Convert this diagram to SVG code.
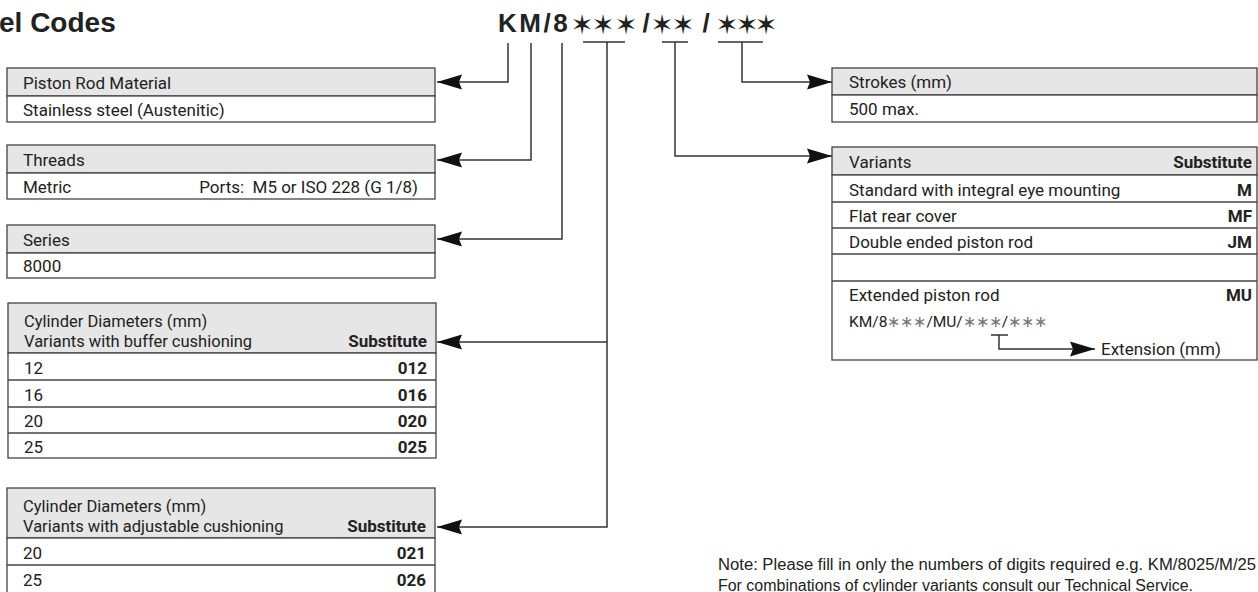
<svg xmlns="http://www.w3.org/2000/svg" width="1258" height="592" viewBox="0 0 1258 592">
<style>
.hdr{fill:#e6e6e6;stroke:#444;stroke-width:1.3}
.body{fill:#fff;stroke:#444;stroke-width:1.3}
.sep{stroke:#444;stroke-width:1.3}
.t{font-family:Roboto,"Liberation Sans",sans-serif;font-size:17px;fill:#222}
.h2{font-size:16.5px}
.b{font-weight:bold;text-anchor:end}
.r{text-anchor:end}
.code{font-family:"Liberation Sans",Arial,sans-serif;font-weight:bold;font-size:26px;fill:#222}
.star{font-family:"DejaVu Sans",sans-serif;font-size:27px;font-weight:normal}
.ln{fill:none;stroke:#333;stroke-width:1.5}
.note{font-family:"Liberation Sans",Arial,sans-serif;font-size:16px;fill:#222}
</style>
<defs>
<marker id="ah" viewBox="-26 -9 27 18" refX="0" refY="0" markerWidth="27" markerHeight="18" markerUnits="userSpaceOnUse" orient="auto">
<path d="M0,0 L-25,-7.5 L-22,0 L-25,7.5 Z" fill="#111"/>
</marker>
</defs>
<rect width="1258" height="592" fill="#fff"/>
<text x="-1" y="32" style="font-family:'Liberation Sans',Arial,sans-serif;font-weight:bold;font-size:28px;fill:#222">el Codes</text>

<g id="code">
<text class="code" x="498" y="32" letter-spacing="2.5">KM/8</text>
<text class="code" text-anchor="middle" y="32"><tspan class="star" x="582 603 626" y="34">✶✶✶</tspan><tspan x="646" y="32">/</tspan><tspan class="star" x="662 683" y="34">✶✶</tspan><tspan x="706" y="32">/</tspan><tspan class="star" x="727 747 766" y="34">✶✶✶</tspan></text>
</g>

<g id="piston">
<rect class="hdr" x="7" y="68" width="428" height="28"/>
<rect class="body" x="7" y="96" width="428" height="26"/>
<text class="t" x="23" y="89">Piston Rod Material</text>
<text class="t" x="23" y="116">Stainless steel (Austenitic)</text>
</g>

<g id="threads">
<rect class="hdr" x="7" y="145" width="428" height="28"/>
<rect class="body" x="7" y="173" width="428" height="26"/>
<text class="t" x="23" y="166">Threads</text>
<text class="t" x="23" y="193">Metric</text>
<text class="t r" x="418" y="193">Ports:&#160; M5 or ISO 228 (G 1/8)</text>
</g>

<g id="series">
<rect class="hdr" x="7" y="225" width="428" height="28"/>
<rect class="body" x="7" y="253" width="428" height="25"/>
<text class="t" x="23" y="246">Series</text>
<text class="t" x="23" y="272">8000</text>
</g>

<g id="cyl-buffer">
<rect class="hdr" x="8" y="303" width="428" height="50"/>
<rect class="body" x="8" y="353" width="428" height="105"/>
<line class="sep" x1="8" y1="380" x2="436" y2="380"/>
<line class="sep" x1="8" y1="407" x2="436" y2="407"/>
<line class="sep" x1="8" y1="433" x2="436" y2="433"/>
<text class="t h2" x="24" y="327">Cylinder Diameters (mm)</text>
<text class="t h2" x="24" y="347">Variants with buffer cushioning</text>
<text class="t b" x="427" y="347">Substitute</text>
<text class="t" x="24" y="374">12</text><text class="t b" x="427" y="374">012</text>
<text class="t" x="24" y="401">16</text><text class="t b" x="427" y="401">016</text>
<text class="t" x="24" y="427">20</text><text class="t b" x="427" y="427">020</text>
<text class="t" x="24" y="453">25</text><text class="t b" x="427" y="453">025</text>
</g>

<g id="cyl-adjustable">
<rect class="hdr" x="7" y="488" width="428" height="50"/>
<rect class="body" x="7" y="538" width="428" height="70"/>
<line class="sep" x1="7" y1="565" x2="435" y2="565"/>
<text class="t h2" x="23" y="512">Cylinder Diameters (mm)</text>
<text class="t h2" x="23" y="532">Variants with adjustable cushioning</text>
<text class="t b" x="426" y="532">Substitute</text>
<text class="t" x="23" y="559">20</text><text class="t b" x="426" y="559">021</text>
<text class="t" x="23" y="586">25</text><text class="t b" x="426" y="586">026</text>
</g>

<g id="strokes">
<rect class="hdr" x="832" y="68" width="425" height="27"/>
<rect class="body" x="832" y="95" width="425" height="27"/>
<text class="t" x="849" y="88">Strokes (mm)</text>
<text class="t" x="849" y="115">500 max.</text>
</g>

<g id="variants">
<rect class="hdr" x="832" y="147" width="425" height="28"/>
<rect class="body" x="832" y="175" width="425" height="185"/>
<line class="sep" x1="832" y1="202" x2="1257" y2="202"/>
<line class="sep" x1="832" y1="228" x2="1257" y2="228"/>
<line class="sep" x1="832" y1="254" x2="1257" y2="254"/>
<line class="sep" x1="832" y1="281" x2="1257" y2="281"/>
<text class="t" x="849" y="168">Variants</text>
<text class="t b" x="1252" y="168">Substitute</text>
<text class="t" x="849" y="196">Standard with integral eye mounting</text><text class="t b" x="1252" y="196">M</text>
<text class="t" x="849" y="222">Flat rear cover</text><text class="t b" x="1252" y="222">MF</text>
<text class="t" x="849" y="248">Double ended piston rod</text><text class="t b" x="1252" y="248">JM</text>
<text class="t" x="849" y="301">Extended piston rod</text><text class="t b" x="1252" y="301">MU</text>
<text class="t" x="849" y="327" style="font-size:15.5px">KM/8<tspan fill="#777">∗∗∗</tspan>/MU/<tspan fill="#777">∗∗∗</tspan>/<tspan fill="#777">∗∗∗</tspan></text>
<text class="t" x="1101" y="355">Extension (mm)</text>
</g>

<g id="note">
<text class="note" x="718" y="570" textLength="538" lengthAdjust="spacingAndGlyphs">Note: Please fill in only the numbers of digits required e.g. KM/8025/M/25</text>
<text class="note" x="718" y="591" textLength="475" lengthAdjust="spacingAndGlyphs">For combinations of cylinder variants consult our Technical Service.</text>
</g>

<g id="connectors">
<path class="ln" d="M508,43 V82 H437" marker-end="url(#ah)"/>
<path class="ln" d="M531,43 V160 H437" marker-end="url(#ah)"/>
<path class="ln" d="M562,43 V239 H437" marker-end="url(#ah)"/>
<path class="ln" d="M583,42 H625"/>
<path class="ln" d="M607,42 V527 H437" marker-end="url(#ah)"/>
<path class="ln" d="M607,342 H437" marker-end="url(#ah)"/>
<path class="ln" d="M662,42 H688"/>
<path class="ln" d="M675,42 V156 H832" marker-end="url(#ah)"/>
<path class="ln" d="M718,42 H763"/>
<path class="ln" d="M742,42 V82 H832" marker-end="url(#ah)"/>
<path class="ln" d="M991,335 H1008"/>
<path class="ln" d="M999,335 V349 H1095" marker-end="url(#ah)"/>
</g>
</svg>
